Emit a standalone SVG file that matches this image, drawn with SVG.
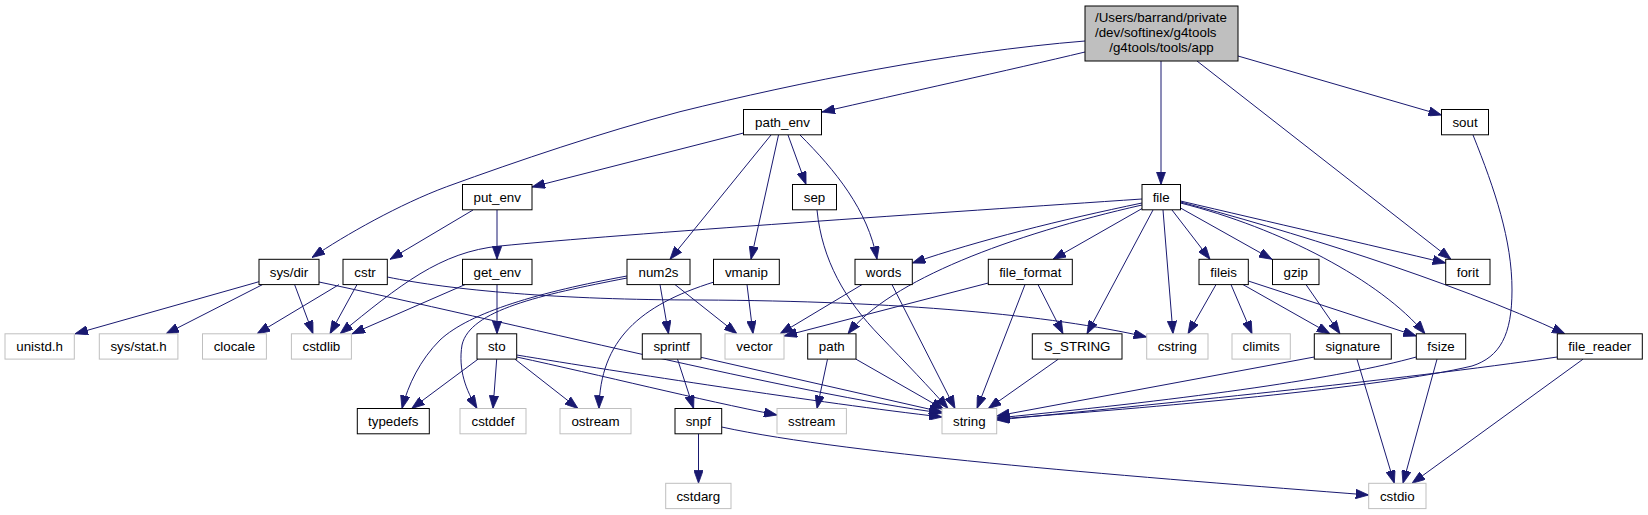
<svg xmlns="http://www.w3.org/2000/svg" width="1648" height="515" viewBox="0 0 1648 515">
<style>
.n rect{fill:#fff;stroke:#000;stroke-width:1}
.g rect{fill:#fff;stroke:#bfbfbf;stroke-width:1}
#root rect{fill:#bfbfbf}
text{font-family:"Liberation Sans",Arial,Helvetica,sans-serif;font-size:13.33px;fill:#000;text-anchor:middle}
#edges path{fill:none;stroke:#191970;stroke-width:1;marker-end:url(#arr)}
</style>
<defs>
<marker id="arr" markerUnits="userSpaceOnUse" viewBox="0 0 13 9.4" refX="13" refY="4.7" markerWidth="13" markerHeight="9.4" orient="auto">
<path d="M0,0L13,4.7L0,9.4z" fill="#191970" stroke="#191970" stroke-width="0.8"/>
</marker>
</defs>
<rect width="1648" height="515" fill="#fff"/>
<g id="edges">
<path d="M1085,41 C950,52 800,82 680,111.7 C600,133 520,160 446.7,186.7 C400,204 345,235 312,257.5"/>
<path d="M1085,52 C1010,70 900,94 822,112"/>
<path d="M1161,61 L1161,184.5"/>
<path d="M1197,61 L1451,259.3"/>
<path d="M1238,56 L1441.5,115"/>
<path d="M1473,135 C1495,190 1512,240 1512,290 C1512,335 1500,357 1472,366 C1380,388 1150,408 996.7,419"/>
<path d="M743.5,133 L532,187"/>
<path d="M771,135 L670,259.3"/>
<path d="M778.5,135 L751,259.3"/>
<path d="M788,135 L806,184.5"/>
<path d="M800,135 C835,170 868,210 877,259.3"/>
<path d="M473,210 L390,259.3"/>
<path d="M497,210 L497,259.3"/>
<path d="M1142,199 C950,212 620,234 500,246 C440,252 400,285 340,333.8"/>
<path d="M1142,203 C1060,220 980,240 912.3,263"/>
<path d="M1142,205 C1010,235 890,280 848,333.8"/>
<path d="M1143,208 L1053,259.3"/>
<path d="M1153,210 L1087,333.8"/>
<path d="M1163,210 L1173,333.8"/>
<path d="M1172,210 L1210,259.3"/>
<path d="M1180.5,208 L1272,259.3"/>
<path d="M1180.5,203 C1280,228 1380,280 1425,333.8"/>
<path d="M1180.5,201 C1270,222 1370,245 1445.7,263"/>
<path d="M1180.5,202 C1280,228 1450,280 1565,333.8"/>
<path d="M817,210 C822,260 845,300 880,336 C905,362 930,388 948,408.5"/>
<path d="M259,281.7 L75,333.8"/>
<path d="M262.5,284.6 L166,333.8"/>
<path d="M294.6,284.6 L313,333.8"/>
<path d="M319,282 C500,320 800,395 942,413"/>
<path d="M339,284.6 L257,333.8"/>
<path d="M357,284.6 L330,333.8"/>
<path d="M387.3,277 C450,290 560,300 700,300 C900,301 1050,315 1146.7,337"/>
<path d="M465,284.6 L352,333.8"/>
<path d="M497,284.6 L497,333.8"/>
<path d="M627,276 C540,292 470,312 440,340 C420,360 408,385 402,408.5"/>
<path d="M627,278 C540,295 470,310 462,345 C458,370 466,390 477,408.5"/>
<path d="M660,284.6 L668.5,333.8"/>
<path d="M675,284.6 L737,333.8"/>
<path d="M714,282 C640,305 600,340 599,408.5"/>
<path d="M747,284.6 L753,333.8"/>
<path d="M862,284.6 L780,333.8"/>
<path d="M892,284.6 L955,408.5"/>
<path d="M988.3,283 L784,336"/>
<path d="M1025,284.6 L977,408.5"/>
<path d="M1038,284.6 L1063,333.8"/>
<path d="M1216,284.6 L1188,333.8"/>
<path d="M1231,284.6 L1252,333.8"/>
<path d="M1243,284.6 L1330,333.8"/>
<path d="M1248.3,281 L1416.3,336"/>
<path d="M1306,284.6 L1340,333.8"/>
<path d="M478,359.2 L411.7,408.5"/>
<path d="M496.7,359.2 L493,408.5"/>
<path d="M515,359.2 L578,408.5"/>
<path d="M516.7,357 C600,375 700,400 777,415"/>
<path d="M516.7,355 C620,372 820,403 942,417"/>
<path d="M677.5,359.2 L693.6,408.5"/>
<path d="M701,357.3 L942,412"/>
<path d="M827.5,359.2 L817,408.5"/>
<path d="M856,359.2 L944,409.5"/>
<path d="M1058.3,359.2 L988.3,408.5"/>
<path d="M1314.3,357 L996.7,416"/>
<path d="M1357,359.2 L1394.3,483.3"/>
<path d="M1437,359.2 L1403,483.3"/>
<path d="M1416.3,357 C1340,378 1200,398 996.7,418"/>
<path d="M1557.3,357 C1400,380 1150,405 996.7,420"/>
<path d="M1583,359.2 L1412,483.3"/>
<path d="M698.5,433.8 L698.5,483.3"/>
<path d="M721.7,427 C850,455 1150,478 1368.7,495"/>
</g>
<g id="root" class="n"><rect x="1085" y="6" width="153" height="55"/><text x="1095" y="22" style="text-anchor:start">/Users/barrand/private</text><text x="1095" y="37" style="text-anchor:start">/dev/softinex/g4tools</text><text x="1161.5" y="51.5">/g4tools/tools/app</text></g>
<g id="path_env" class="n"><rect x="743.5" y="109.5" width="78" height="25.3"/><text x="782.5" y="127">path_env</text></g>
<g id="sout" class="n"><rect x="1441.5" y="109.5" width="47" height="25.3"/><text x="1465" y="127">sout</text></g>
<g id="put_env" class="n"><rect x="462.5" y="184.5" width="69.5" height="25.3"/><text x="497.2" y="202">put_env</text></g>
<g id="sep" class="n"><rect x="792.5" y="184.5" width="44" height="25.3"/><text x="814.5" y="202">sep</text></g>
<g id="file" class="n"><rect x="1142" y="184.5" width="38.5" height="25.3"/><text x="1161.2" y="202">file</text></g>
<g id="sys_dir" class="n"><rect x="259" y="259.3" width="60" height="25.3"/><text x="289" y="276.8">sys/dir</text></g>
<g id="cstr" class="n"><rect x="343" y="259.3" width="44.3" height="25.3"/><text x="365.1" y="276.8">cstr</text></g>
<g id="get_env" class="n"><rect x="462.5" y="259.3" width="69.5" height="25.3"/><text x="497.2" y="276.8">get_env</text></g>
<g id="num2s" class="n"><rect x="627" y="259.3" width="63" height="25.3"/><text x="658.5" y="276.8">num2s</text></g>
<g id="vmanip" class="n"><rect x="713.5" y="259.3" width="65.8" height="25.3"/><text x="746.4" y="276.8">vmanip</text></g>
<g id="words" class="n"><rect x="855" y="259.3" width="57.3" height="25.3"/><text x="883.6" y="276.8">words</text></g>
<g id="file_format" class="n"><rect x="988.3" y="259.3" width="84" height="25.3"/><text x="1030.3" y="276.8">file_format</text></g>
<g id="fileis" class="n"><rect x="1199" y="259.3" width="49.3" height="25.3"/><text x="1223.6" y="276.8">fileis</text></g>
<g id="gzip" class="n"><rect x="1272.5" y="259.3" width="46.5" height="25.3"/><text x="1295.7" y="276.8">gzip</text></g>
<g id="forit" class="n"><rect x="1445.7" y="259.3" width="44.3" height="25.3"/><text x="1467.8" y="276.8">forit</text></g>
<g id="unistd_h" class="g"><rect x="5" y="333.8" width="69.3" height="25.3"/><text x="39.6" y="351.3">unistd.h</text></g>
<g id="sys_stat_h" class="g"><rect x="99.3" y="333.8" width="78.6" height="25.3"/><text x="138.6" y="351.3">sys/stat.h</text></g>
<g id="clocale" class="g"><rect x="202.5" y="333.8" width="63.9" height="25.3"/><text x="234.4" y="351.3">clocale</text></g>
<g id="cstdlib" class="g"><rect x="291.4" y="333.8" width="60" height="25.3"/><text x="321.4" y="351.3">cstdlib</text></g>
<g id="sto" class="n"><rect x="477" y="333.8" width="39.7" height="25.3"/><text x="496.8" y="351.3">sto</text></g>
<g id="sprintf" class="n"><rect x="642.3" y="333.8" width="58.7" height="25.3"/><text x="671.6" y="351.3">sprintf</text></g>
<g id="vector" class="g"><rect x="725" y="333.8" width="59" height="25.3"/><text x="754.5" y="351.3">vector</text></g>
<g id="path" class="n"><rect x="807.7" y="333.8" width="48.3" height="25.3"/><text x="831.8" y="351.3">path</text></g>
<g id="S_STRING" class="n"><rect x="1032.3" y="333.8" width="89.7" height="25.3"/><text x="1077.1" y="351.3">S_STRING</text></g>
<g id="cstring" class="g"><rect x="1146.7" y="333.8" width="61.3" height="25.3"/><text x="1177.3" y="351.3">cstring</text></g>
<g id="climits" class="g"><rect x="1232" y="333.8" width="58.3" height="25.3"/><text x="1261.1" y="351.3">climits</text></g>
<g id="signature" class="n"><rect x="1314.3" y="333.8" width="77" height="25.3"/><text x="1352.8" y="351.3">signature</text></g>
<g id="fsize" class="n"><rect x="1416.3" y="333.8" width="49.4" height="25.3"/><text x="1441" y="351.3">fsize</text></g>
<g id="file_reader" class="n"><rect x="1557.3" y="333.8" width="85" height="25.3"/><text x="1599.8" y="351.3">file_reader</text></g>
<g id="typedefs" class="n"><rect x="357.3" y="408.5" width="72" height="25.3"/><text x="393.3" y="426">typedefs</text></g>
<g id="cstddef" class="g"><rect x="460" y="408.5" width="66" height="25.3"/><text x="493" y="426">cstddef</text></g>
<g id="ostream" class="g"><rect x="560" y="408.5" width="71" height="25.3"/><text x="595.5" y="426">ostream</text></g>
<g id="snpf" class="n"><rect x="675" y="408.5" width="46.7" height="25.3"/><text x="698.3" y="426">snpf</text></g>
<g id="sstream" class="g"><rect x="777" y="408.5" width="69.4" height="25.3"/><text x="811.7" y="426">sstream</text></g>
<g id="string" class="g"><rect x="942" y="408.5" width="54.7" height="25.3"/><text x="969.3" y="426">string</text></g>
<g id="cstdarg" class="g"><rect x="665.7" y="483.3" width="65.3" height="25.3"/><text x="698.3" y="500.8">cstdarg</text></g>
<g id="cstdio" class="g"><rect x="1368.7" y="483.3" width="57.3" height="25.3"/><text x="1397.3" y="500.8">cstdio</text></g>
</svg>
